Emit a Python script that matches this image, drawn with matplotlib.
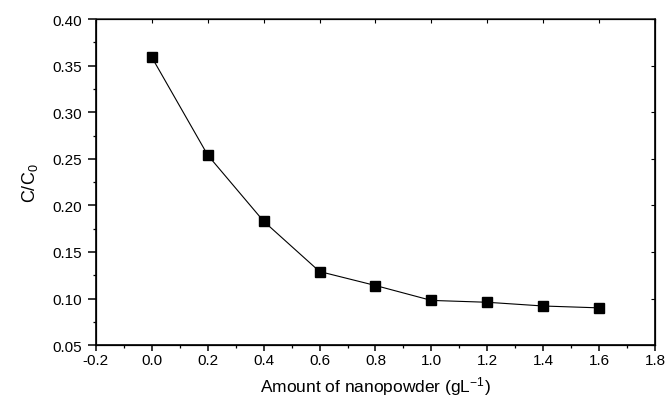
import matplotlib
matplotlib.use("Agg")
from matplotlib import pyplot as plt
from matplotlib.ticker import MultipleLocator, NullLocator, FormatStrFormatter

# amount of nanopowder (g/L) vs C/C0
amount = [0.0, 0.2, 0.4, 0.6, 0.8, 1.0, 1.2, 1.4, 1.6]
ratio = [0.359, 0.254, 0.183, 0.129, 0.114, 0.098, 0.096, 0.092, 0.090]

plt.rcParams['font.family'] = ['Liberation Sans', 'DejaVu Sans']
plt.rcParams['mathtext.fontset'] = 'custom'
plt.rcParams['mathtext.rm'] = 'Liberation Sans'
plt.rcParams['mathtext.it'] = 'Liberation Sans'
plt.rcParams['mathtext.default'] = 'regular'

fig = plt.figure(figsize=(6.66, 4.02), dpi=100)
ax = fig.add_axes([0.144, 0.139, 0.8395, 0.811])

ax.plot(amount, ratio, color='black', lw=0.8, marker='s', ms=7,
        mfc='black', mec='black')

ax.set_xlim(-0.2, 1.8)
ax.set_ylim(0.05, 0.40)
ax.xaxis.set_major_locator(MultipleLocator(0.2))
ax.xaxis.set_minor_locator(MultipleLocator(0.1))
ax.yaxis.set_major_locator(MultipleLocator(0.05))
ax.yaxis.set_minor_locator(MultipleLocator(0.025))
ax.xaxis.set_major_formatter(FormatStrFormatter('%.1f'))
ax.yaxis.set_major_formatter(FormatStrFormatter('%.2f'))

for s in ax.spines.values():
    s.set_linewidth(1.2)
ax.spines['top'].set_color('#444444')

ax.tick_params(axis='y', which='major', direction='out', length=6, width=1.1,
               labelsize=11, pad=4)
ax.tick_params(axis='x', which='major', direction='out', length=4, width=1.1,
               labelsize=11, pad=2)
ax.tick_params(which='minor', direction='out', length=2.5, width=0.9)

# top/right ticks pointing in, no labels
ax2 = ax.twinx()
ax2.set_ylim(ax.get_ylim())
ax2.yaxis.set_major_locator(MultipleLocator(0.05))
ax2.yaxis.set_minor_locator(NullLocator())
ax2.tick_params(direction='in', length=3, width=0.8, labelright=False)
ax3 = ax.twiny()
ax3.set_xlim(ax.get_xlim())
ax3.xaxis.set_major_locator(MultipleLocator(0.2))
ax3.xaxis.set_minor_locator(NullLocator())
ax3.tick_params(direction='in', length=3, width=0.8, labeltop=False)

ax.set_xlabel('Amount of nanopowder (gL$^{-1}$)', fontsize=12.5, labelpad=5)
ax.set_ylabel('C/C$_0$', fontsize=13, labelpad=9)

fig.savefig('out.png', dpi=100)
